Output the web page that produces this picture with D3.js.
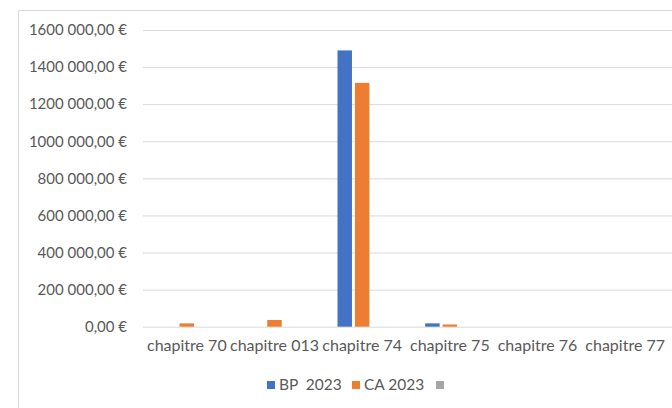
<!DOCTYPE html>
<html><head><meta charset="utf-8">
<script src="https://cdn.jsdelivr.net/npm/d3@7"></script>
<style>body{margin:0;background:#fff}svg{display:block}</style>
</head><body>
<svg id="c" width="672" height="408"></svg>
<script>
const categories = ["chapitre 70","chapitre 013","chapitre 74","chapitre 75","chapitre 76","chapitre 77"];
const seriesNames = ["BP  2023","CA 2023",""];
const bp2023 = [0, 0, 1490000, 18000, 0, 0];
const ca2023 = [18000, 36000, 1315000, 12000, 0, 0];
const third = [0, 0, 0, 0, 0, 0];
const yTicks = [0,200000,400000,600000,800000,1000000,1200000,1400000,1600000];
const colors = ["#4472C4","#ED7D31","#A5A5A5"];

const svg = d3.select("#c");
const font = "Lato, 'Open Sans', sans-serif";
svg.append("rect").attr("x",18.5).attr("y",10.5).attr("width",700).attr("height",420)
  .attr("fill","#fff").attr("stroke","#d9d9d9");

const x = d3.scaleBand().domain(categories).range([143,669]);
const y = d3.scaleLinear().domain([0,1600000]).range([326.7,30]);
const series = [bp2023, ca2023, third];
const xs = d3.scaleBand().domain([0,1,2]).range([0, x.bandwidth()]).paddingInner(0.17).paddingOuter(1.1);

const fmt = v => {
  const s = d3.format(",.2f")(v).replace(".", "#").replace(/,/g, " ").replace("#", ",");
  return s.replace(/^(\d) (\d{3}) /, "$1$2 ") + " €";
};

const yAxis = d3.axisLeft(y).tickValues(yTicks).tickSize(-(672-143)).tickFormat(fmt).tickPadding(16);
const gy = svg.append("g").attr("transform","translate(143,0)").call(yAxis);
gy.select(".domain").remove();
gy.selectAll(".tick line").attr("stroke","#d9d9d9").attr("stroke-width",1);
gy.selectAll(".tick text").attr("fill","#595959").style("font-family",font).style("font-size","15px");

const gx = svg.append("g").attr("transform","translate(0,326.7)")
  .call(d3.axisBottom(x).tickSize(0).tickPadding(13));
gx.select(".domain").remove();
gx.selectAll(".tick text").attr("fill","#595959").style("font-family",font).style("font-size","16px");

series.forEach((vals,si)=>{
  svg.append("g").selectAll("rect").data(vals).join("rect")
    .attr("x",(d,i)=>x(categories[i])+xs(si))
    .attr("width",xs.bandwidth())
    .attr("y",d=>y(d))
    .attr("height",d=>y(0)-y(d))
    .attr("fill",colors[si]);
});

// legend
const leg = svg.append("g").attr("transform","translate(0,385)");
const legX = [267, 352, 436];
seriesNames.forEach((n,i)=>{
  leg.append("rect").attr("x",legX[i]).attr("y",-4).attr("width",8).attr("height",8).attr("fill",colors[i]);
  leg.append("text").attr("x",legX[i]+12).attr("y",0).attr("dy","0.35em")
    .attr("fill","#595959").style("font-family",font).style("font-size","15.5px")
    .style("white-space","pre").attr("xml:space","preserve").text(n);
});
</script>
</body></html>
